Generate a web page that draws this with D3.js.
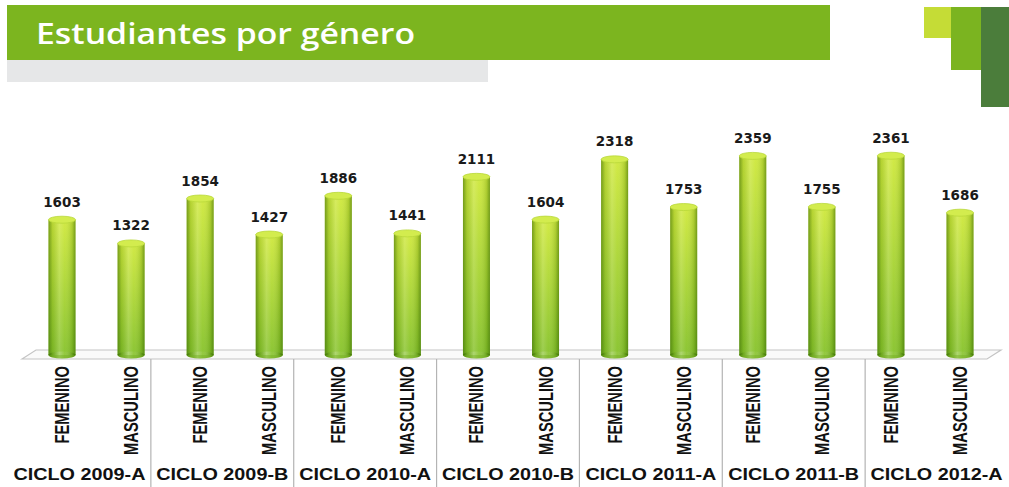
<!DOCTYPE html>
<html>
<head>
<meta charset="utf-8">
<script src="https://cdn.jsdelivr.net/npm/d3@7"></script>
<style>
    body {
        margin: 0;
        background: white;
        font-family: "Liberation Sans", Arial, sans-serif;
    }
    svg {
        display: block;
    }
</style>
</head>
<body>
<svg id="chart"></svg>
<script>
    // datos del grafico
    const ciclos = ["CICLO 2009-A", "CICLO 2009-B", "CICLO 2010-A", "CICLO 2010-B", "CICLO 2011-A", "CICLO 2011-B", "CICLO 2012-A"]
    const generos = ["FEMENINO", "MASCULINO"]
    const femenino = [1603, 1854, 1886, 2111, 2318, 2359, 2361]
    const masculino = [1322, 1427, 1441, 1604, 1753, 1755, 1686]

    let width = 1009
    let height = 487

    let svg = d3.select("#chart")
        .attr("width", width)
        .attr("height", height)

    // one row per bar
    let rows = []
    ciclos.forEach((c, i) => {
        rows.push({ ciclo: c, genero: generos[0], value: femenino[i] })
        rows.push({ ciclo: c, genero: generos[1], value: masculino[i] })
    })
    rows.forEach(d => d.key = d.ciclo + "|" + d.genero)

    let xBar = d3.scalePoint()
        .domain(rows.map(d => d.key))
        .range([62, 960])

    let xGroup = d3.scaleBand()
        .domain(ciclos)
        .range([8, 1008])

    let y = d3.scaleLinear()
        .domain([0, 2500])
        .range([355, 144])

    let barW = 27

    // gradients
    let defs = svg.append("defs")
    let vg = defs.append("linearGradient").attr("id", "barFill")
        .attr("x1", 0).attr("y1", 0).attr("x2", 0).attr("y2", 1)
    vg.append("stop").attr("offset", "0%").attr("stop-color", "#cfe83c")
    vg.append("stop").attr("offset", "100%").attr("stop-color", "#86c22a")

    let hg = defs.append("linearGradient").attr("id", "barShade")
        .attr("x1", 0).attr("y1", 0).attr("x2", 1).attr("y2", 0)
    hg.append("stop").attr("offset", "0%").attr("stop-color", "#2f6000").attr("stop-opacity", 0.55)
    hg.append("stop").attr("offset", "15%").attr("stop-color", "#2f6000").attr("stop-opacity", 0.15)
    hg.append("stop").attr("offset", "40%").attr("stop-color", "#ffffff").attr("stop-opacity", 0.18)
    hg.append("stop").attr("offset", "60%").attr("stop-color", "#ffffff").attr("stop-opacity", 0.05)
    hg.append("stop").attr("offset", "88%").attr("stop-color", "#2f6000").attr("stop-opacity", 0.2)
    hg.append("stop").attr("offset", "100%").attr("stop-color", "#2f6000").attr("stop-opacity", 0.55)

    // header banner
    svg.append("rect").attr("x", 7).attr("y", 5).attr("width", 823).attr("height", 55).attr("fill", "#7cb51f")
    svg.append("rect").attr("x", 7).attr("y", 60).attr("width", 481).attr("height", 22).attr("fill", "#e6e7e8")
    svg.append("text")
        .attr("x", 36).attr("y", 44)
        .attr("fill", "white")
        .style("font-family", "'Open Sans', sans-serif")
        .style("font-weight", 600)
        .style("font-size", "29px")
        .attr("textLength", 379)
        .attr("lengthAdjust", "spacingAndGlyphs")
        .text("Estudiantes por género")

    // corner blocks
    svg.append("rect").attr("x", 924).attr("y", 7).attr("width", 27).attr("height", 31).attr("fill", "#c5dc36")
    svg.append("rect").attr("x", 951).attr("y", 7).attr("width", 30).attr("height", 63).attr("fill", "#7bb420")
    svg.append("rect").attr("x", 981).attr("y", 7).attr("width", 28).attr("height", 100).attr("fill", "#4b7d3b")

    // floor
    let fl = xBar.range()[0] - 26, fr = xBar.range()[1] + 41
    let floorPts = [[fl - 14, 359], [fl, 350], [fr, 350], [fr - 14, 359]]
    svg.append("polygon")
        .attr("points", floorPts.map(p => p.join(",")).join(" "))
        .attr("fill", "#fafafa")
        .attr("stroke", "#c4c4c4")
        .attr("stroke-width", 1.2)

    // group dividers
    let divs = xGroup.domain().slice(1).map(c => xGroup(c))
    svg.selectAll(".divider")
        .data(divs)
        .enter().append("line")
        .attr("class", "divider")
        .attr("x1", d => d).attr("x2", d => d)
        .attr("y1", 359).attr("y2", height)
        .attr("stroke", "#b4b4b4")
        .attr("stroke-width", 1.2)

    // bars (cylinders)
    let bars = svg.selectAll(".bar")
        .data(rows)
        .enter().append("g")
        .attr("class", "bar")
        .attr("transform", d => `translate(${xBar(d.key)},0)`)

    bars.append("ellipse")
        .attr("cx", 0).attr("cy", y(0))
        .attr("rx", barW / 2).attr("ry", 3.5)
        .attr("fill", "#7db826")
    bars.append("rect")
        .attr("x", -barW / 2).attr("width", barW)
        .attr("y", d => y(d.value))
        .attr("height", d => y(0) - y(d.value))
        .attr("fill", "url(#barFill)")
    bars.append("ellipse")
        .attr("cx", 0).attr("cy", y(0))
        .attr("rx", barW / 2).attr("ry", 3.5)
        .attr("fill", "url(#barShade)")
    bars.append("rect")
        .attr("x", -barW / 2).attr("width", barW)
        .attr("y", d => y(d.value))
        .attr("height", d => y(0) - y(d.value))
        .attr("fill", "url(#barShade)")
    bars.append("ellipse")
        .attr("cx", 0).attr("cy", d => y(d.value))
        .attr("rx", barW / 2).attr("ry", 3.5)
        .attr("fill", "#d3ec4e")
        .attr("stroke", "#b9d83a")
        .attr("stroke-width", 0.8)

    // value labels
    bars.append("text")
        .attr("x", 0)
        .attr("y", d => y(d.value) - 13)
        .attr("text-anchor", "middle")
        .style("font-family", "'DejaVu Sans', Verdana, sans-serif")
        .style("font-weight", "bold")
        .style("font-size", "13.5px")
        .attr("fill", "#1a1a1a")
        .text(d => d.value)

    // gender labels (rotated, condensed)
    bars.append("text")
        .attr("transform", `translate(7,366) rotate(-90) scale(0.7,1)`)
        .attr("text-anchor", "end")
        .style("font-weight", "bold")
        .style("font-size", "21px")
        .attr("fill", "#111")
        .text(d => d.genero)

    // ciclo labels
    svg.selectAll(".ciclo")
        .data(ciclos)
        .enter().append("text")
        .attr("class", "ciclo")
        .attr("transform", d => `translate(${xGroup(d) + xGroup.bandwidth() / 2},480) scale(1.2,1)`)
        .attr("text-anchor", "middle")
        .style("font-weight", "bold")
        .style("font-size", "16.5px")
        .attr("fill", "#111")
        .text(d => d)
</script>
</body>
</html>
